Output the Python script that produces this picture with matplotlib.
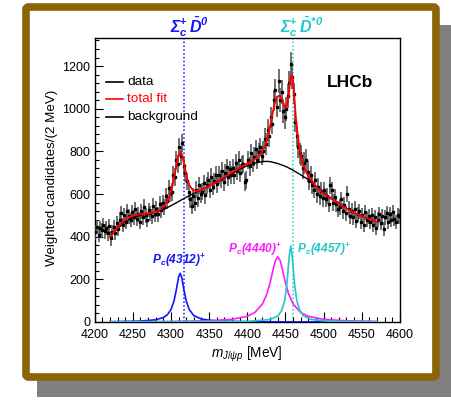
import numpy as np
import matplotlib
matplotlib.use("Agg")
from matplotlib import pyplot as plt
from matplotlib.patches import Rectangle, FancyBboxPatch

plt.rcParams['font.family'] = ['Liberation Sans', 'DejaVu Sans']
plt.rcParams['mathtext.fontset'] = 'custom'
plt.rcParams['mathtext.rm'] = 'Liberation Sans'
plt.rcParams['mathtext.it'] = 'Liberation Sans:italic'
plt.rcParams['mathtext.bf'] = 'Liberation Sans:bold'
plt.rcParams['mathtext.bfit'] = 'Liberation Sans:bold:italic'

# weighted candidates per 2 MeV bin, 4200-4600 MeV
data_y = [
    420, 445, 410, 440, 430, 455, 425, 440, 415, 450,
    392, 420, 445, 418, 462, 435, 480, 510, 455, 500,
    470, 520, 495, 478, 515, 490, 530, 485, 505, 470,
    520, 490, 540, 500, 480, 525, 510, 495, 545, 505,
    530, 505, 555, 525, 560, 540, 590, 565, 630, 600,
    610, 690, 680, 760, 740, 820, 780, 840, 730, 700,
    660, 610, 575, 545, 590, 560, 620, 580, 640, 600,
    610, 650, 595, 640, 665, 620, 680, 635, 660, 690,
    645, 690, 670, 710, 655, 700, 725, 680, 715, 690,
    720, 690, 745, 710, 760, 700, 735, 740, 655, 665,
    760, 730, 790, 745, 775, 810, 760, 795, 820, 780,
    800, 860, 835, 900, 870, 960, 930, 1040, 1090, 1010,
    1130, 1040, 1080, 990, 960, 1000, 1060, 1120, 1210, 1150,
    1070, 940, 870, 820, 790, 780, 720, 745, 760, 705,
    660, 690, 640, 620, 665, 600, 635, 590, 615, 580,
    620, 575, 590, 555, 640, 620, 560, 585, 555, 530,
    540, 575, 520, 550, 510, 600, 530, 495, 520, 490,
    530, 475, 505, 520, 470, 500, 455, 515, 480, 495,
    470, 500, 455, 490, 440, 480, 505, 465, 495, 435,
    490, 510, 470, 505, 480, 515, 485, 470, 500, 495,
]
# uncertainty for each 20 MeV block of ten bins
block_err = [34, 34, 34, 35, 36, 42, 40, 40, 41, 42,
             44, 50, 56, 50, 40, 38, 36, 35, 34, 34]
data_x = np.arange(4201, 4600, 2)
data_err = np.repeat(block_err, 10)

fit_x = [4220, 4225, 4230, 4235, 4240, 4245, 4250, 4255, 4260, 4265, 4270,
         4275, 4280, 4285, 4290, 4293, 4296, 4299, 4302, 4305, 4308, 4310,
         4312, 4314, 4316, 4318, 4320, 4322, 4324, 4327, 4330, 4334, 4338,
         4342, 4350, 4360, 4370, 4380, 4390, 4400, 4405, 4410, 4415, 4418,
         4421, 4424, 4427, 4430, 4433, 4436, 4439, 4441, 4443, 4445, 4447,
         4449, 4451, 4453, 4455, 4456, 4457, 4458, 4459, 4460, 4461, 4462,
         4463, 4464, 4466, 4468, 4470, 4473, 4476, 4480, 4485, 4490, 4495,
         4500, 4510, 4520, 4530, 4540, 4550, 4560, 4570]
fit_y = [400, 420, 442, 462, 480, 492, 499, 503, 505, 506, 508,
         511, 516, 525, 540, 553, 573, 600, 640, 695, 750, 782,
         798, 790, 762, 725, 688, 660, 641, 626, 617, 614, 617,
         624, 638, 657, 679, 701, 723, 743, 753, 764, 778, 790,
         808, 832, 868, 918, 975, 1023, 1052, 1060, 1060, 1050, 1030,
         1010, 1005, 1030, 1085, 1125, 1150, 1160, 1152, 1125, 1090, 1040,
         990, 945, 880, 825, 782, 740, 712, 685, 658, 636, 618,
         602, 578, 555, 532, 512, 497, 483, 470]

bkg_x = [4220, 4230, 4240, 4250, 4260, 4270, 4280, 4290, 4300, 4310, 4320,
         4330, 4340, 4350, 4360, 4370, 4380, 4390, 4400, 4410, 4420, 4425,
         4430, 4440, 4450, 4460, 4470, 4480, 4490, 4500, 4510, 4520, 4530,
         4540, 4550, 4560, 4570]
bkg_y = [400, 438, 470, 490, 500, 506, 514, 527, 545, 565, 585,
         603, 620, 637, 655, 675, 696, 716, 733, 745, 752, 753,
         752, 743, 730, 712, 690, 668, 635, 607, 580, 556, 533,
         513, 497, 483, 470]

pc4312_x = [4220, 4260, 4280, 4290, 4295, 4300, 4304, 4307, 4310, 4312, 4314,
            4317, 4320, 4324, 4330, 4340, 4360, 4400, 4450, 4500, 4570]
pc4312_y = [1.3, 4.1, 10.4, 21, 33, 58, 99, 151, 211, 228, 211,
            151, 99, 58, 30, 13.4, 4.8, 1.4, 0.6, 0.3, 0.2]

pc4440_x = [4220, 4300, 4350, 4380, 4400, 4410, 4420, 4426, 4430, 4434, 4437,
            4440, 4443, 4446, 4450, 4454, 4460, 4470, 4480, 4500, 4530, 4570]
pc4440_y = [1, 2.4, 5.7, 12.5, 26.8, 44.7, 85, 134, 185, 248, 289,
            306, 289, 248, 185, 134, 85, 44.7, 26.8, 12.5, 5.7, 3]

pc4457_x = [4220, 4400, 4430, 4440, 4445, 4449, 4452, 4455, 4457, 4459, 4462,
            4465, 4469, 4474, 4484, 4510, 4570]
pc4457_y = [0.2, 2.7, 11.8, 28, 53, 100, 178, 307, 356, 307, 178,
            100, 53, 28, 11.8, 3.1, 0.7]

thr_sigc_d = 4317.7
thr_sigc_dstar = 4459.8

blue = '#1414ff'
magenta = '#ff1aff'
cyan = '#22c8c8'
frame_col = '#8b6508'

fig = plt.figure(figsize=(4.52, 4.0), dpi=100)
fig.patch.set_facecolor('white')

# drop shadow and framed panel
fig.patches.append(Rectangle((0.0819, 0.0075), 0.92, 0.93, transform=fig.transFigure,
                             facecolor='#808080', edgecolor='none', zorder=0))
fig.patches.append(FancyBboxPatch((0.0575, 0.0575), 0.907, 0.925,
                                  boxstyle='round,pad=0,rounding_size=0.006',
                                  transform=fig.transFigure, facecolor='white',
                                  edgecolor=frame_col, linewidth=5.5, zorder=1))

ax = fig.add_axes([0.2095, 0.195, 0.675, 0.7108])
ax.set_zorder(3)
ax.set_facecolor('white')
ax.set_xlim(4200, 4600)
ax.set_ylim(0, 1333)

ax.axvline(thr_sigc_d, color=blue, lw=1.1, ls=(0, (1, 1.5)), zorder=1)
ax.axvline(thr_sigc_dstar, color=cyan, lw=1.1, ls=(0, (1, 1.5)), zorder=1)

ax.errorbar(data_x, data_y, yerr=data_err, xerr=1, fmt='s', ms=1.8,
            color='black', ecolor='#4a4a4a', elinewidth=1.1, capsize=0, zorder=3)
ax.plot(bkg_x, bkg_y, color='black', lw=1.0, zorder=4)
ax.plot(fit_x, fit_y, color='red', lw=1.4, zorder=5)

ax.plot(pc4312_x, pc4312_y, color=blue, lw=1.2, zorder=4)
ax.plot(pc4440_x, pc4440_y, color=magenta, lw=1.2, zorder=4)
ax.plot(pc4457_x, pc4457_y, color=cyan, lw=1.2, zorder=4)

ax.text(4311, 291, r'$\mathbfit{P}_{\mathbfit{c}}$(4312)$^{\mathbf{+}}$', color=blue,
        fontsize=8.6, fontweight='bold', style='italic', ha='center', va='center')
ax.text(4410, 342, r'$\mathbfit{P}_{\mathbfit{c}}$(4440)$^{\mathbf{+}}$', color=magenta,
        fontsize=8.6, fontweight='bold', style='italic', ha='center', va='center')
ax.text(4500, 342, r'$\mathbfit{P}_{\mathbfit{c}}$(4457)$^{\mathbf{+}}$', color=cyan,
        fontsize=8.6, fontweight='bold', style='italic', ha='center', va='center')

trans = ax.get_xaxis_transform()
ax.text(4324, 1.036, r'$\mathbfit{\Sigma}_{\mathbfit{c}}^{\mathbf{+}}\,\bar{\mathbfit{D}}^{\mathbfit{0}}$',
        color=blue, fontsize=11.5, ha='center', va='center', transform=trans)
ax.text(4472, 1.036, r'$\mathbfit{\Sigma}_{\mathbfit{c}}^{\mathbf{+}}\,\bar{\mathbfit{D}}^{\mathbfit{*0}}$',
        color=cyan, fontsize=11.5, ha='center', va='center', transform=trans)

# legend drawn by hand
leg_rows = [('data', 'black', 'black', 0.845),
            ('total fit', 'red', 'red', 0.783),
            ('background', 'black', 'black', 0.720)]
for label, lcol, tcol, yy in leg_rows:
    ax.plot([0.037, 0.093], [yy, yy], color=lcol, lw=1.2, transform=ax.transAxes)
    ax.text(0.106, yy, label, color=tcol, fontsize=9.7, va='center', ha='left',
            transform=ax.transAxes)

ax.text(0.837, 0.841, 'LHCb', fontsize=12.5, fontweight='bold', ha='center', va='center',
        transform=ax.transAxes)

ax.set_xticks(np.arange(4200, 4601, 50))
ax.set_xticks(np.arange(4200, 4601, 10), minor=True)
ax.set_yticks(np.arange(0, 1201, 200))
ax.set_yticks(np.arange(0, 1333, 40), minor=True)
ax.tick_params(which='both', direction='in', top=False, right=False, labelsize=9,
               width=0.8)
ax.tick_params(axis='x', which='major', length=7, pad=5)
ax.tick_params(axis='x', which='minor', length=3.6)
ax.tick_params(axis='y', which='major', length=5.8, pad=3)
ax.tick_params(axis='y', which='minor', length=2.9)
for sp in ax.spines.values():
    sp.set_linewidth(1.0)

fig.text(247 / 452, 0.115, r'$m_{J/\psi p}$ [MeV]', fontsize=9.8, ha='center', va='center')
fig.text(52 / 452, 0.555, 'Weighted candidates/(2 MeV)', fontsize=9.6, rotation=90,
         ha='center', va='center')

fig.savefig('out.png', dpi=100)
